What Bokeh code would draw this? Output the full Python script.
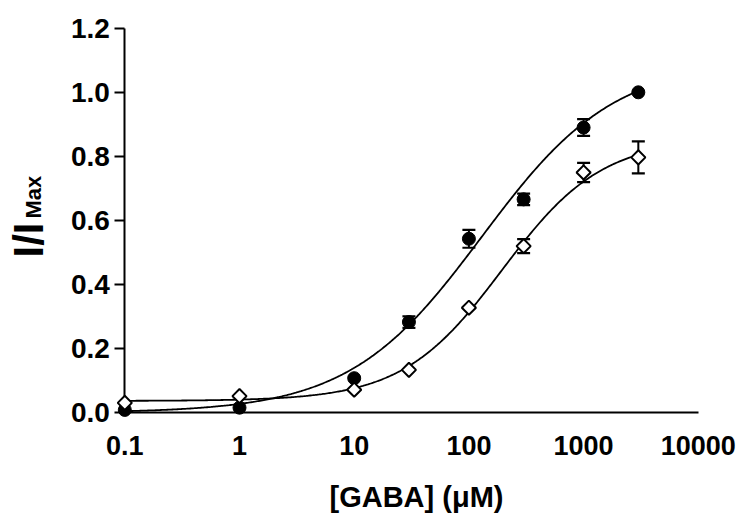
import numpy as np
from bokeh.plotting import figure
from bokeh.models import (Range1d, FixedTicker, ColumnDataSource, Whisker, TeeHead,
                          Label, NumeralTickFormatter)
from bokeh.embed import file_html
from bokeh.resources import INLINE

# ---------------- data ----------------
conc = [0.1, 1, 10, 30, 100, 300, 1000, 3000]          # [GABA] (uM)
filled_mean = [0.009, 0.016, 0.108, 0.283, 0.543, 0.666, 0.890, 1.000]
filled_err = [0.0, 0.0, 0.0, 0.018, 0.028, 0.018, 0.026, 0.0]
open_mean = [0.031, 0.052, 0.072, 0.134, 0.328, 0.520, 0.750, 0.797]
open_err = [0.0, 0.0, 0.0, 0.0, 0.0, 0.022, 0.030, 0.050]

# Hill-equation fit parameters (bottom, top, EC50, Hill slope) for the drawn curves
filled_fit = dict(bottom=0.0, top=1.10, ec50=130.0, hill=0.75)
open_fit = dict(bottom=0.037, top=0.855, ec50=195.0, hill=1.0)

x_ticks = [0.1, 1, 10, 100, 1000, 10000]
x_tick_labels = ["0.1", "1", "10", "100", "1000", "10000"]
y_ticks = [0.0, 0.2, 0.4, 0.6, 0.8, 1.0, 1.2]

FONT = "Liberation Sans"
W, H = 741, 513


def hill(x, bottom, top, ec50, hill):
    x = np.asarray(x, dtype=float)
    return bottom + (top - bottom) / (1.0 + (ec50 / x) ** hill)


# the plotting frame fills the canvas; the axes sit at x = 0.1 and y = 0
PX_PER_DEC, X0_PX = 114.7, 124.3
PX_PER_UNIT, Y0_PX = 320.5, 412.3
lx0 = np.log10(x_ticks[0])
x_rng = Range1d(10 ** (lx0 - X0_PX / PX_PER_DEC), 10 ** (lx0 + (W - X0_PX) / PX_PER_DEC))
y_rng = Range1d(y_ticks[0] - (H - Y0_PX) / PX_PER_UNIT, y_ticks[0] + Y0_PX / PX_PER_UNIT)

p = figure(width=W, height=H, x_axis_type="log", x_range=x_rng, y_range=y_rng,
           output_backend="svg", toolbar_location=None,
           min_border_left=0, min_border_right=0, min_border_top=0, min_border_bottom=0)
p.outline_line_color = None
p.grid.visible = False
p.background_fill_color = "white"
p.border_fill_color = "white"

# ---------------- curves ----------------
xc = np.logspace(np.log10(conc[0]), np.log10(conc[-1]), 400)
p.line(xc, hill(xc, **filled_fit), line_color="black", line_width=1.8)
p.line(xc, hill(xc, **open_fit), line_color="black", line_width=1.8)

# ---------------- error bars ----------------
def whisk(means, errs):
    xs = [c for c, e in zip(conc, errs) if e > 0]
    ms = [m for m, e in zip(means, errs) if e > 0]
    es = [e for e in errs if e > 0]
    src = ColumnDataSource(dict(x=xs, upper=[m + e for m, e in zip(ms, es)],
                                lower=[m - e for m, e in zip(ms, es)]))
    w = Whisker(source=src, base="x", upper="upper", lower="lower",
                line_color="black", line_width=2,
                upper_head=TeeHead(size=13, line_width=2.2, line_color="black"),
                lower_head=TeeHead(size=13, line_width=2.2, line_color="black"))
    p.add_layout(w)

whisk(filled_mean, filled_err)
whisk(open_mean, open_err)

# ---------------- markers ----------------
p.scatter(conc, filled_mean, marker="circle", size=13, fill_color="black", line_color="black")
p.scatter(conc, open_mean, marker="square", angle=np.pi / 4, size=10,
          fill_color="white", line_color="black", line_width=2, level="overlay")

# ---------------- axes ----------------
xa = p.xaxis[0]
xa.fixed_location = y_ticks[0]
xa.bounds = (x_ticks[0], x_ticks[-1])
xa.ticker = FixedTicker(ticks=x_ticks, minor_ticks=[])
xa.major_label_overrides = {t: l for t, l in zip(x_ticks, x_tick_labels)}
xa.axis_line_color = "black"
xa.axis_line_width = 2
xa.major_tick_line_color = None
xa.minor_tick_line_color = None
xa.major_tick_out = 0
xa.major_tick_in = 0
xa.major_label_text_font = FONT
xa.major_label_text_font_style = "bold"
xa.major_label_text_font_size = "27px"
xa.major_label_text_color = "black"
xa.major_label_standoff = 23

ya = p.yaxis[0]
ya.fixed_location = x_ticks[0]
ya.bounds = (y_ticks[0], y_ticks[-1])
ya.ticker = FixedTicker(ticks=y_ticks, minor_ticks=[])
ya.formatter = NumeralTickFormatter(format="0.0")
ya.axis_line_color = "black"
ya.axis_line_width = 2
ya.major_tick_line_color = "black"
ya.major_tick_line_width = 2
ya.minor_tick_line_color = None
ya.major_tick_in = 0
ya.major_tick_out = 10
ya.major_label_text_font = FONT
ya.major_label_text_font_style = "bold"
ya.major_label_text_font_size = "28px"
ya.major_label_text_color = "black"
ya.major_label_standoff = 5

# ---------------- axis titles (frame == canvas; y measured from the bottom) ----------------
p.add_layout(Label(x=416, y=17, x_units="screen", y_units="screen",
                   text="[GABA] (\u03bcM)", text_align="center", text_baseline="alphabetic",
                   text_font=FONT, text_font_style="bold", text_font_size="29px",
                   text_color="black"))
ylab = dict(angle=np.pi / 2, text_align="left", text_baseline="alphabetic",
            text_font=FONT, text_font_style="bold", text_color="black",
            x_units="screen", y_units="screen")
p.add_layout(Label(x=28, y=H - 257, text="I/I", text_font_size="42px", **ylab))
p.add_layout(Label(x=33, y=H - 218, text="Max", text_font_size="22px", **ylab))

open("out.html", "w").write(file_html(p, INLINE))
